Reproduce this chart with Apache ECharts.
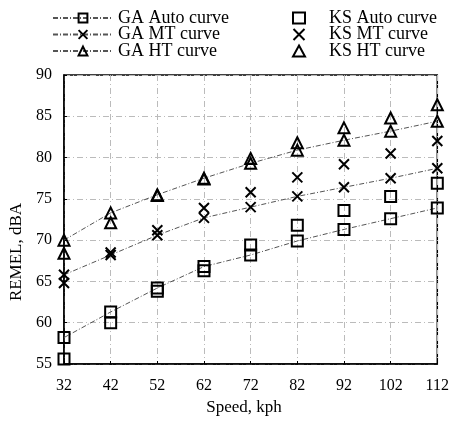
<!DOCTYPE html>
<html><head><meta charset="utf-8">
<script src="https://cdn.jsdelivr.net/npm/echarts@6/dist/echarts.min.js"></script>
<style>html,body{margin:0;padding:0;background:#fff}#c{width:452px;height:424px}</style>
</head><body><div id="c"></div>
<script>
var speeds = ['32','42','52','62','72','82','92','102','112'];
var yTicks = [55,60,65,70,75,80,85,90];
var gaAuto = [58.2,61.3,64.2,66.8,68.2,69.9,71.3,72.6,73.9];
var ksAuto = [55.6,60.0,63.8,66.3,69.4,71.8,73.6,75.3,76.9];
var gaMT = [65.8,68.2,70.6,72.7,74.0,75.3,76.4,77.5,78.7];
var ksMT = [64.8,68.5,71.2,73.9,75.8,77.6,79.2,80.5,82.0];
var gaHT = [70.0,73.3,75.5,77.5,79.3,80.9,82.1,83.2,84.4];
var ksHT = [68.4,72.1,75.4,77.4,79.9,81.8,83.6,84.8,86.4];

var FONT = '"Liberation Serif", "Times New Roman", serif';
var X_SYM = 'path://M0,0L10,10M0,10L10,0';
var mk = {color:'rgba(255,255,255,0)', borderColor:'#000', borderWidth:2, opacity:1};
var gaLine = {color:'#555', width:1, type:[5,2,1,2]};

function gaSeries(name, data, sym, size){
  return {name:name, type:'line', data:data, symbol:sym, symbolSize:size,
    showSymbol:true, lineStyle:gaLine, itemStyle:mk, z:3, animation:false};
}
function ksSeries(name, data, sym, size){
  return {name:name, type:'scatter', data:data, symbol:sym, symbolSize:size,
    itemStyle:mk, z:3, animation:false};
}
var legText = {fontFamily:FONT, fontSize:18, color:'#000', lineHeight:16};

var chart = echarts.init(document.getElementById('c'));
chart.setOption({
  animation:false,
  backgroundColor:'#fff',
  textStyle:{fontFamily:FONT},
  grid:{left:64, right:12, top:75, bottom:60, show:true, borderColor:'#000', borderWidth:1.5},
  legend:[
    {data:['GA Auto curve','GA MT curve','GA HT curve'], orient:'vertical', left:47, top:4,
     itemWidth:60, itemHeight:11, itemGap:-1.5, textStyle:legText},
    {data:['KS Auto curve','KS MT curve','KS HT curve'], orient:'vertical', left:287, top:4,
     itemWidth:12, itemHeight:11, itemGap:-1.5,
     textStyle:Object.assign({}, legText, {padding:[0,0,0,19]})}
  ],
  xAxis:{type:'category', data:speeds, boundaryGap:false,
    axisLine:{lineStyle:{color:'#000', width:1.5}},
    axisTick:{inside:true, length:3, lineStyle:{color:'#000'}},
    axisLabel:{fontFamily:FONT, fontSize:16, color:'#000', margin:14},
    splitLine:{show:true, lineStyle:{color:'#bbb', width:1, type:[6,3,1,3]}}},
  yAxis:{type:'value', min:yTicks[0], max:yTicks[yTicks.length-1], interval:5,
    axisLine:{show:true, lineStyle:{color:'#000', width:1.5}},
    axisTick:{show:true, inside:true, length:3, lineStyle:{color:'#000'}},
    axisLabel:{fontFamily:FONT, fontSize:16, color:'#000', margin:12},
    splitLine:{show:true, lineStyle:{color:'#bbb', width:1, type:[6,3,1,3]}}},
  graphic:[
    {type:'text', x:17, y:252, rotation:Math.PI/2,
     style:{text:'REMEL, dBA', fontFamily:FONT, fontSize:17, fill:'#000', textAlign:'center', textVerticalAlign:'middle'}},
    {type:'text', x:244, y:408,
     style:{text:'Speed, kph', fontFamily:FONT, fontSize:17, fill:'#000', textAlign:'center', textVerticalAlign:'middle'}}
  ],
  series:[
    gaSeries('GA Auto curve', gaAuto, 'rect', 11),
    gaSeries('GA MT curve', gaMT, X_SYM, 10),
    gaSeries('GA HT curve', gaHT, 'triangle', 11),
    ksSeries('KS Auto curve', ksAuto, 'rect', 11),
    ksSeries('KS MT curve', ksMT, X_SYM, 10),
    ksSeries('KS HT curve', ksHT, 'triangle', 11)
  ]
});
</script></body></html>
